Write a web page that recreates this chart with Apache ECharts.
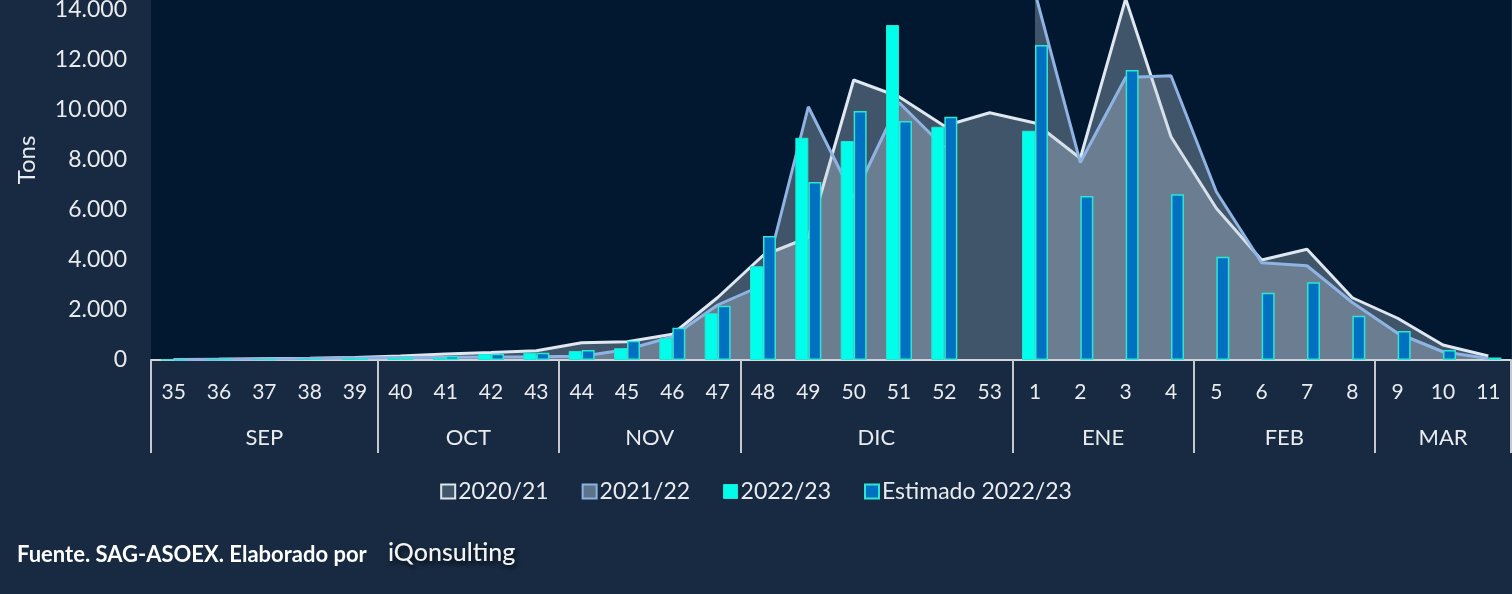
<!DOCTYPE html>
<html>
<head>
<meta charset="utf-8">
<script src="https://cdn.jsdelivr.net/npm/echarts@6/dist/echarts.min.js"></script>
<style>
html,body{margin:0;padding:0;background:#172a41;}
#c{width:1512px;height:594px;}
</style>
</head>
<body>
<div id="c"></div>
<script>
// ---- data ----
const weeks = ['35','36','37','38','39','40','41','42','43','44','45','46','47','48','49','50','51','52','53','1','2','3','4','5','6','7','8','9','10','11'];
const months = ['SEP','OCT','NOV','DIC','ENE','FEB','MAR'];
const monthWeekCounts = [5,4,4,6,4,4,3];
const season2020 = [20,30,50,70,100,160,240,300,370,690,730,1030,2500,4180,4900,11200,10530,9360,9890,9480,8070,14450,8930,6070,4000,4430,2490,1670,600,160];
const season2021 = [20,30,40,60,80,100,110,120,130,150,420,930,2200,3000,10130,6500,10300,8500,null,14700,7900,11300,11370,6730,3890,3770,2300,1070,330,60];
const season2022 = [20,30,40,50,70,90,90,240,290,360,470,870,1870,3750,8890,8760,13400,9330,null,9170,null,null,null,null,null,null,null,null,null,null];
const estimated2022 = [30,40,50,60,80,120,160,250,290,400,770,1290,2170,4960,7120,9960,9560,9730,null,12600,6560,11600,6630,4130,2690,3110,1770,1160,400,100];
const seriesNames = ['2020/21','2021/22','2022/23','Estimado 2022/23'];
const yAxisTitle = 'Tons';
const sourceText = 'Fuente. SAG-ASOEX. Elaborado por';
const brandText = 'iQonsulting';

// ---- month axis (half-category positions) ----
const halfCount = weeks.length * 2 + 1;
const monthLabels = new Array(halfCount).fill('');
const boundaryIdx = new Set([0]);
let start = 0;
months.forEach((m, i) => {
  const span = monthWeekCounts[i];
  monthLabels[start * 2 + span] = m;
  start += span;
  boundaryIdx.add(start * 2);
});

const FONT = 'Lato';
const TXT = '#e9ebee';
const fmt = v => String(v).replace(/\B(?=(\d{3})+(?!\d))/g, '.');

const chart = echarts.init(document.getElementById('c'), null, {renderer: 'canvas'});
chart.setOption({
  backgroundColor: '#172a41',
  animation: false,
  textStyle: {fontFamily: FONT},
  grid: {
    left: 151, right: 1, top: -40, bottom: 234,
    outerBoundsMode: 'none', containLabel: false,
    show: true, backgroundColor: '#011830', borderWidth: 0
  },
  legend: {
    left: 'center', top: 475,
    itemWidth: 14, itemHeight: 14, itemGap: 33,
    textStyle: {color: TXT, fontSize: 23, fontFamily: FONT, padding: [0, 0, 0, -2]},
    data: [
      {name: seriesNames[0], icon: 'rect', itemStyle: {color: '#415669', borderColor: '#dde6ef', borderWidth: 2}},
      {name: seriesNames[1], icon: 'rect', itemStyle: {color: '#5d728b', borderColor: '#8db2e0', borderWidth: 2}},
      {name: seriesNames[2], icon: 'rect', itemStyle: {color: '#00ffea', borderColor: '#1fe5d3', borderWidth: 1}},
      {name: seriesNames[3], icon: 'rect', itemStyle: {color: '#0070c0', borderColor: '#2ee6d6', borderWidth: 2}}
    ]
  },
  xAxis: [
    {
      type: 'category', data: weeks, position: 'bottom',
      axisLine: {show: true, lineStyle: {color: '#d4d6d9', width: 2}},
      axisTick: {show: false},
      axisLabel: {interval: 0, color: TXT, fontSize: 21, margin: 22, fontFamily: FONT},
      splitLine: {show: false}
    },
    {
      type: 'category', data: monthLabels, position: 'bottom', boundaryGap: false,
      axisLine: {show: false},
      axisTick: {show: true, length: 93, interval: (i) => boundaryIdx.has(i), lineStyle: {color: '#c4c7cc', width: 2}},
      axisLabel: {interval: (i) => monthLabels[i] !== '', color: TXT, fontSize: 22, margin: 67, fontFamily: FONT},
      splitLine: {show: false}
    }
  ],
  yAxis: {
    type: 'value', min: 0, max: 16000, interval: 2000,
    name: yAxisTitle, nameLocation: 'middle', nameRotate: 90, nameGap: 112,
    nameTextStyle: {color: TXT, fontSize: 24, fontFamily: FONT},
    axisLine: {show: false}, axisTick: {show: false}, splitLine: {show: false},
    axisLabel: {color: TXT, fontSize: 23, margin: 24, fontFamily: FONT, formatter: fmt}
  },
  series: [
    {
      name: seriesNames[0], type: 'line', data: season2020, xAxisIndex: 0,
      symbol: 'none', z: 1,
      lineStyle: {color: '#dfe7f0', width: 3},
      itemStyle: {color: '#415669'},
      areaStyle: {color: 'rgba(195,209,225,0.33)', opacity: 1}
    },
    {
      name: seriesNames[1], type: 'line', data: season2021, xAxisIndex: 0,
      symbol: 'none', z: 2, connectNulls: false,
      lineStyle: {color: '#8fb3e2', width: 3},
      itemStyle: {color: '#5d728b'},
      areaStyle: {color: 'rgba(195,209,225,0.33)', opacity: 1}
    },
    {
      name: seriesNames[2], type: 'bar', data: season2022, xAxisIndex: 0,
      barWidth: 13, barGap: '0%', z: 3,
      itemStyle: {color: '#00ffea', borderColor: '#24e3d2', borderWidth: 1}
    },
    {
      name: seriesNames[3], type: 'bar', data: estimated2022, xAxisIndex: 0,
      barWidth: 13, barGap: '0%', z: 3,
      itemStyle: {color: '#0070c0', borderColor: '#2ee6d6', borderWidth: 1.5}
    }
  ],
  graphic: [
    {
      type: 'text', left: 17, top: 544,
      style: {text: sourceText, fill: '#ffffff', font: 'bold 22px Lato'}
    },
    {
      type: 'text', left: 388, top: 540,
      style: {
        text: brandText, fill: '#f2f2f2', font: '500 25px Lato',
        textShadowColor: 'rgba(0,0,0,0.7)', textShadowBlur: 4, textShadowOffsetX: 2, textShadowOffsetY: 3
      }
    }
  ]
});
</script>
</body>
</html>
